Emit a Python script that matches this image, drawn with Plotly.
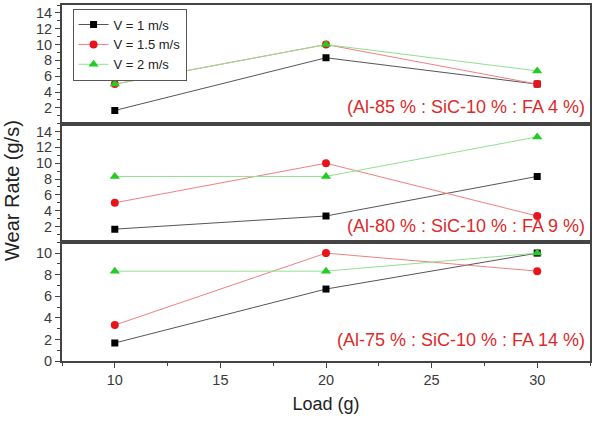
import plotly.graph_objects as go
from plotly.subplots import make_subplots

loads = [10, 20, 30]
series_names = ["V = 1 m/s", "V = 1.5 m/s", "V = 2 m/s"]

# panel 1: Al-85 % : SiC-10 % : FA 4 %
p1_v1 = [1.67, 8.33, 5.0]
p1_v15 = [5.0, 10.0, 5.0]
p1_v2 = [5.0, 10.0, 6.67]
# panel 2: Al-80 % : SiC-10 % : FA 9 %
p2_v1 = [1.67, 3.33, 8.33]
p2_v15 = [5.0, 10.0, 3.33]
p2_v2 = [8.33, 8.33, 13.33]
# panel 3: Al-75 % : SiC-10 % : FA 14 %
p3_v1 = [1.67, 6.67, 10.0]
p3_v15 = [3.33, 10.0, 8.33]
p3_v2 = [8.33, 8.33, 10.0]

labels = ["(Al-85 % : SiC-10 % : FA 4 %)",
          "(Al-80 % : SiC-10 % : FA 9 %)",
          "(Al-75 % : SiC-10 % : FA 14 %)"]

panels = [(p1_v1, p1_v15, p1_v2), (p2_v1, p2_v15, p2_v2), (p3_v1, p3_v15, p3_v2)]

line_colors = ["#555555", "#f08080", "#90e090"]
marker_colors = ["#000000", "#e8141c", "#22cc22"]
symbols = ["square", "circle", "triangle-up"]
msizes = [7, 8, 9]

FONT = "Arial, Liberation Sans, sans-serif"

fig = make_subplots(rows=3, cols=1, shared_xaxes=True, vertical_spacing=0)

for r, vals in enumerate(panels, start=1):
    for i, ys in enumerate(vals):
        fig.add_trace(go.Scatter(
            x=loads, y=ys, mode="lines+markers", name=series_names[i],
            line=dict(color=line_colors[i], width=1),
            marker=dict(color=marker_colors[i], symbol=symbols[i], size=msizes[i],
                        line=dict(width=0)),
            showlegend=(r == 1),
        ), row=r, col=1)

font_tick = dict(family=FONT, size=14.5, color="#3a3a3a")

for r in range(1, 4):
    yax = dict(
        showline=True, mirror=True, linecolor="#444444", linewidth=2,
        ticks="outside", ticklen=5, tickcolor="#444444",
        minor=dict(ticks="outside", ticklen=3, dtick=1, tickcolor="#444444"),
        showgrid=False, zeroline=False, tickfont=font_tick,
    )
    if r < 3:
        yax.update(range=[0, 15], tickvals=[2, 4, 6, 8, 10, 12, 14])
    else:
        yax.update(range=[0, 11], tickvals=[0, 2, 4, 6, 8, 10])
    fig.update_yaxes(row=r, col=1, **yax)
    fig.update_xaxes(row=r, col=1, range=[7.5, 32.5], showline=True, mirror=True,
                     linecolor="#444444", linewidth=2, showgrid=False, zeroline=False,
                     ticks="outside" if r == 3 else "", ticklen=5, tickcolor="#444444",
                     tickvals=[10, 15, 20, 25, 30],
                     minor=dict(ticks="outside" if r == 3 else "", ticklen=3, dtick=2.5,
                                tickcolor="#444444"),
                     tickfont=font_tick, showticklabels=(r == 3))

fig.update_xaxes(row=3, col=1, title=dict(text="Load (g)", standoff=10,
                 font=dict(family=FONT, size=18, color="#222222")))

for r in range(1, 4):
    ax = "" if r == 1 else str(r)
    fig.add_annotation(x=0.995, y=0.04 if r < 3 else 0.08, xref=f"x{ax} domain", yref=f"y{ax} domain",
                       xanchor="right", yanchor="bottom", text=labels[r - 1], showarrow=False,
                       font=dict(family=FONT, size=18, color="#dd2a2a"))

fig.add_annotation(x=-0.095, y=0.48, xref="paper", yref="paper", text="Wear Rate (g/s)",
                   textangle=-90, showarrow=False, xanchor="center", yanchor="middle",
                   font=dict(family=FONT, size=20, color="#222222"))

fig.update_layout(
    width=592, height=423,
    margin=dict(l=62, r=0, t=5, b=62),
    paper_bgcolor="white", plot_bgcolor="white",
    legend=dict(x=0.02, y=0.99, xanchor="left", yanchor="top",
                bordercolor="#555555", borderwidth=1, bgcolor="white",
                font=dict(family=FONT, size=13, color="#222222"),
                tracegroupgap=0, itemwidth=30),
    showlegend=True,
)

fig.write_html("out.html", config={"displayModeBar": False},
               post_script="document.body.style.margin='0';document.body.style.overflow='hidden';")
